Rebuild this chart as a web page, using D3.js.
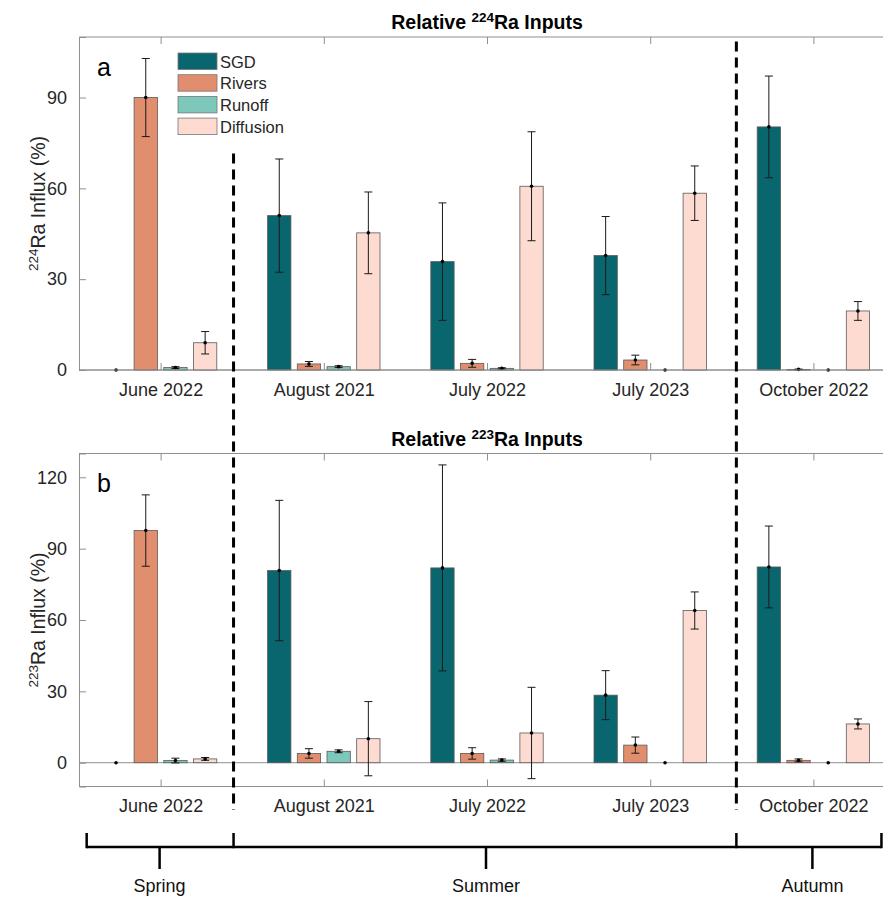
<!DOCTYPE html>
<html>
<head>
<meta charset="utf-8">
<script src="https://cdn.jsdelivr.net/npm/d3@7"></script>
<style>
  body { margin: 0; background: #fff; }
  svg { display: block; font-family: "Liberation Sans", Arial, Helvetica, sans-serif; }
</style>
</head>
<body>
<svg id="chart" width="883" height="897"></svg>
<script>
// ---------------- DATA ----------------
const categories = ["June 2022", "August 2021", "July 2022", "July 2023", "October 2022"];
const seriesNames = ["SGD", "Rivers", "Runoff", "Diffusion"];

// Relative 224Ra inputs (%)
const ra224SGD = [0, 51.0, 35.8, 37.8, 80.3];
const ra224SGDErr = [0, 18.7, 19.4, 12.9, 16.8];
const ra224Rivers = [90.0, 2.0, 2.2, 3.3, 0.2];
const ra224RiversErr = [12.9, 0.8, 1.3, 1.6, 0.1];
const ra224Runoff = [0.8, 1.1, 0.55, 0, 0];
const ra224RunoffErr = [0.3, 0.3, 0.2, 0, 0];
const ra224Diffusion = [9.0, 45.3, 60.7, 58.4, 19.5];
const ra224DiffusionErr = [3.7, 13.5, 18.0, 9.0, 3.1];

// Relative 223Ra inputs (%)
const ra223SGD = [0, 80.8, 81.9, 28.4, 82.3];
const ra223SGDErr = [0, 29.5, 43.3, 10.3, 17.2];
const ra223Rivers = [97.6, 3.9, 3.9, 7.4, 1.0];
const ra223RiversErr = [15.0, 2.0, 2.4, 3.4, 0.6];
const ra223Runoff = [0.9, 4.8, 1.1, 0, 0];
const ra223RunoffErr = [1.0, 0.6, 0.5, 0, 0];
const ra223Diffusion = [1.6, 10.1, 12.5, 64.0, 16.3];
const ra223DiffusionErr = [0.6, 15.6, 19.2, 7.8, 2.1];

const ticks224 = [0, 30, 60, 90];
const ticks223 = [0, 30, 60, 90, 120];

// Season grouping (in category units)
const seasons = ["Spring", "Summer", "Autumn"];
const seasonCenters = [1, 3, 5];
const seasonEdges = [0.547, 1.447, 4.528, 5.417];

// ---------------- STYLE ----------------
const colors = { SGD: "#0a666e", Rivers: "#e08e6e", Runoff: "#7ec8bb", Diffusion: "#fddbd0" };
const axisColor = "#8f8f8f";
const textColor = "#262626";

const svg = d3.select("#chart");

const x = d3.scaleLinear().domain([0.5, 5.5]).range([79, 895]);
const groupPx = 112.4;
const inner = d3.scaleBand().domain(seriesNames)
  .range([-groupPx / 2, groupPx / 2]).paddingInner(0.215).paddingOuter(0);

function panel(cfg) {
  const { top, bottom, domain, ticks, data, title, isotope, letter } = cfg;
  const y = d3.scaleLinear().domain(domain).range([bottom, top]);
  const g = svg.append("g");
  const left = x.range()[0], right = x.range()[1];

  // baseline at 0
  g.append("line").attr("x1", left).attr("x2", right)
    .attr("y1", y(0)).attr("y2", y(0))
    .attr("stroke", axisColor).attr("stroke-width", 1);

  // bars
  data.forEach(s => {
    s.values.forEach((v, i) => {
      const cx = x(i + 1) + inner(s.name);
      if (v > 0) {
        g.append("rect")
          .attr("x", cx).attr("width", inner.bandwidth())
          .attr("y", y(v)).attr("height", y(0) - y(v))
          .attr("fill", colors[s.name])
          .attr("stroke", "#5a5a5a").attr("stroke-width", 0.8);
      }
    });
  });

  // error bars
  data.forEach(s => {
    s.values.forEach((v, i) => {
      const cx = x(i + 1) + inner(s.name) + inner.bandwidth() / 2;
      const e = s.err[i];
      if (e > 0) {
        g.append("line").attr("x1", cx).attr("x2", cx)
          .attr("y1", y(v - e)).attr("y2", y(v + e))
          .attr("stroke", "#1a1a1a").attr("stroke-width", 1);
        [v - e, v + e].forEach(t => {
          g.append("line").attr("x1", cx - 4).attr("x2", cx + 4)
            .attr("y1", y(t)).attr("y2", y(t))
            .attr("stroke", "#1a1a1a").attr("stroke-width", 1);
        });
      }
      g.append("circle").attr("cx", cx).attr("cy", y(v)).attr("r", 1.8).attr("fill", "#000");
    });
  });

  // box
  g.append("line").attr("x1", left).attr("x2", right).attr("y1", top).attr("y2", top)
    .attr("stroke", axisColor).attr("stroke-width", 1);
  g.append("line").attr("x1", left).attr("x2", right).attr("y1", bottom).attr("y2", bottom)
    .attr("stroke", axisColor).attr("stroke-width", 1);

  // y axis
  const yAxis = d3.axisLeft(y).tickValues(ticks).tickSize(-7).tickPadding(12).tickFormat(d3.format("d"));
  const ya = g.append("g").attr("transform", `translate(${left},0)`).call(yAxis);
  ya.select(".domain").attr("stroke", axisColor);
  ya.selectAll(".tick line").attr("stroke", axisColor);
  ya.selectAll(".tick text").attr("fill", textColor).style("font-size", "18px")
    .style("font-family", "'Liberation Sans', Arial, sans-serif");

  // x axis bottom
  const xAxis = d3.axisBottom(x).tickValues([1, 2, 3, 4, 5]).tickSize(-7).tickPadding(13)
    .tickFormat(d => categories[d - 1]);
  const xa = g.append("g").attr("transform", `translate(0,${bottom})`).call(xAxis);
  xa.select(".domain").remove();
  xa.selectAll(".tick line").attr("stroke", axisColor);
  xa.selectAll(".tick text").attr("fill", textColor).style("font-size", "18px")
    .style("font-family", "'Liberation Sans', Arial, sans-serif");

  // x axis top ticks
  const xTop = d3.axisTop(x).tickValues([1, 2, 3, 4, 5]).tickSize(-7).tickFormat("");
  const xt = g.append("g").attr("transform", `translate(0,${top})`).call(xTop);
  xt.select(".domain").remove();
  xt.selectAll(".tick line").attr("stroke", axisColor);

  // title
  const t = g.append("text").attr("x", (left + right) / 2).attr("y", top - 8)
    .attr("text-anchor", "middle").attr("font-weight", "bold").attr("font-size", 19.5)
    .attr("fill", "#000");
  t.append("tspan").text("Relative ");
  t.append("tspan").text(isotope).attr("font-size", 13.5).attr("dy", -7);
  t.append("tspan").text("Ra Inputs").attr("dy", 7);

  // y label
  const yl = g.append("text")
    .attr("transform", `translate(45,${(top + bottom) / 2}) rotate(-90)`)
    .attr("text-anchor", "middle").attr("font-size", 19.5).attr("fill", textColor);
  yl.append("tspan").text(isotope).attr("font-size", 13.5).attr("dy", -7);
  yl.append("tspan").text("Ra Influx (%)").attr("dy", 7);

  // panel letter
  g.append("text").attr("x", 97).attr("y", top + (letter === "a" ? 39 : 38))
    .attr("font-size", 25).attr("fill", "#000").text(letter);

  return y;
}

const data224 = [
  { name: "SGD", values: ra224SGD, err: ra224SGDErr },
  { name: "Rivers", values: ra224Rivers, err: ra224RiversErr },
  { name: "Runoff", values: ra224Runoff, err: ra224RunoffErr },
  { name: "Diffusion", values: ra224Diffusion, err: ra224DiffusionErr }
];
const data223 = [
  { name: "SGD", values: ra223SGD, err: ra223SGDErr },
  { name: "Rivers", values: ra223Rivers, err: ra223RiversErr },
  { name: "Runoff", values: ra223Runoff, err: ra223RunoffErr },
  { name: "Diffusion", values: ra223Diffusion, err: ra223DiffusionErr }
];

const yTop = panel({ top: 37, bottom: 370, domain: [0, 110], ticks: ticks224, data: data224,
  isotope: "224", letter: "a" });
const yBot = panel({ top: 453.5, bottom: 786.5, domain: [-10, 130], ticks: ticks223, data: data223,
  isotope: "223", letter: "b" });

// legend
const lg = svg.append("g").attr("transform", "translate(178,53)");
seriesNames.forEach((n, i) => {
  const row = lg.append("g").attr("transform", `translate(0,${i * 21.7})`);
  row.append("rect").attr("width", 39).attr("height", 16.5)
    .attr("fill", colors[n]).attr("stroke", "#777").attr("stroke-width", 0.8);
  row.append("text").attr("x", 42).attr("y", 14.5).attr("font-size", 16.5)
    .attr("fill", textColor).text(n);
});

// dashed season separators
const sepStarts = [yTop(71.5), yTop(108.5)];
[seasonEdges[1], seasonEdges[2]].forEach((e, i) => {
  svg.append("line").attr("x1", x(e)).attr("x2", x(e))
    .attr("y1", sepStarts[i]).attr("y2", 810)
    .attr("stroke", "#000").attr("stroke-width", 3).attr("stroke-dasharray", "10,6");
});

// season bracket
const bY = 847;
svg.append("line").attr("x1", x(seasonEdges[0])).attr("x2", x(seasonEdges[3]))
  .attr("y1", bY).attr("y2", bY).attr("stroke", "#000").attr("stroke-width", 2.5);
seasonEdges.forEach(e => {
  svg.append("line").attr("x1", x(e)).attr("x2", x(e)).attr("y1", bY - 14).attr("y2", bY + 1.2)
    .attr("stroke", "#000").attr("stroke-width", 2.5);
});
seasons.forEach((s, i) => {
  const cx = x(seasonCenters[i]) - 1;
  svg.append("line").attr("x1", cx).attr("x2", cx).attr("y1", bY).attr("y2", bY + 22)
    .attr("stroke", "#000").attr("stroke-width", 2.5);
  svg.append("text").attr("x", cx).attr("y", 892).attr("text-anchor", "middle")
    .attr("font-size", 18).attr("fill", "#111").text(s);
});
</script>
</body>
</html>
